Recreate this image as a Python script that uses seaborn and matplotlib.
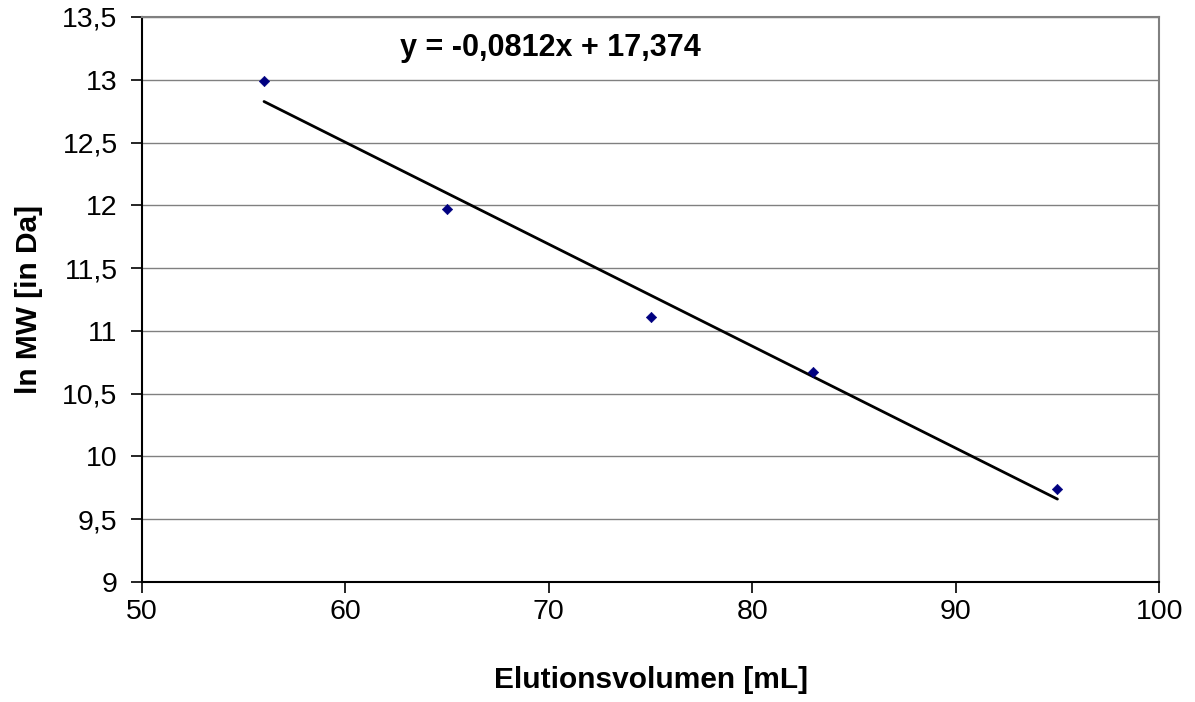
import matplotlib
matplotlib.use("Agg")
import matplotlib.pyplot as plt
from matplotlib.ticker import FuncFormatter, MultipleLocator
import seaborn as sns
import pandas as pd

# calibration points
elution_ml = [56, 65, 75, 83, 95]
ln_mw = [12.99, 11.97, 11.11, 10.67, 9.74]

# linear trendline from the chart
slope = -0.0812
intercept = 17.374
trend_x = [56, 95]
trend_y = [slope * x + intercept for x in trend_x]

df = pd.DataFrame({'x': elution_ml, 'y': ln_mw})
trend = pd.DataFrame({'x': trend_x, 'y': trend_y})

sns.set_style('white')
plt.rcParams['font.family'] = ['Liberation Sans', 'DejaVu Sans']
plt.rcParams['text.color'] = 'black'
plt.rcParams['axes.labelcolor'] = 'black'
plt.rcParams['xtick.color'] = 'black'
plt.rcParams['ytick.color'] = 'black'

fig = plt.figure(figsize=(11.95, 7.02), dpi=100)
ax = fig.add_axes([0.1188, 0.171, 0.8512, 0.8048])

sns.lineplot(data=trend, x='x', y='y', ax=ax, color='black', linewidth=2)
sns.scatterplot(data=df, x='x', y='y', ax=ax, marker='D', color='#000080',
                s=28, edgecolor='#000080', zorder=5)

ax.set_xlim(50, 100)
ax.set_ylim(9, 13.5)
ax.xaxis.set_major_locator(MultipleLocator(10))
ax.yaxis.set_major_locator(MultipleLocator(0.5))
comma = FuncFormatter(lambda v, p: f'{v:g}'.replace('.', ','))
ax.xaxis.set_major_formatter(comma)
ax.yaxis.set_major_formatter(comma)

ax.grid(axis='y', color='#808080', linewidth=1)
ax.set_axisbelow(True)
for side in ['left', 'bottom']:
    ax.spines[side].set_color('black')
    ax.spines[side].set_linewidth(1.5)
for side in ['top', 'right']:
    ax.spines[side].set_color('#808080')
    ax.spines[side].set_linewidth(1.5)

ax.tick_params(axis='both', direction='out', length=8, width=1.2,
               color='black', labelsize=20.5, left=True, bottom=True)
ax.tick_params(axis='y', pad=9.5)
ax.tick_params(axis='x', pad=4)

ax.set_xlabel('Elutionsvolumen [mL]', fontsize=21.5, fontweight='bold', labelpad=30)
ax.set_ylabel('ln MW [in Da]', fontsize=21.5, fontweight='bold', labelpad=14)

ax.text(62.7, 13.255, 'y = -0,0812x + 17,374', fontsize=22, fontweight='bold',
        ha='left', va='center')

fig.savefig('out.png', dpi=100)
